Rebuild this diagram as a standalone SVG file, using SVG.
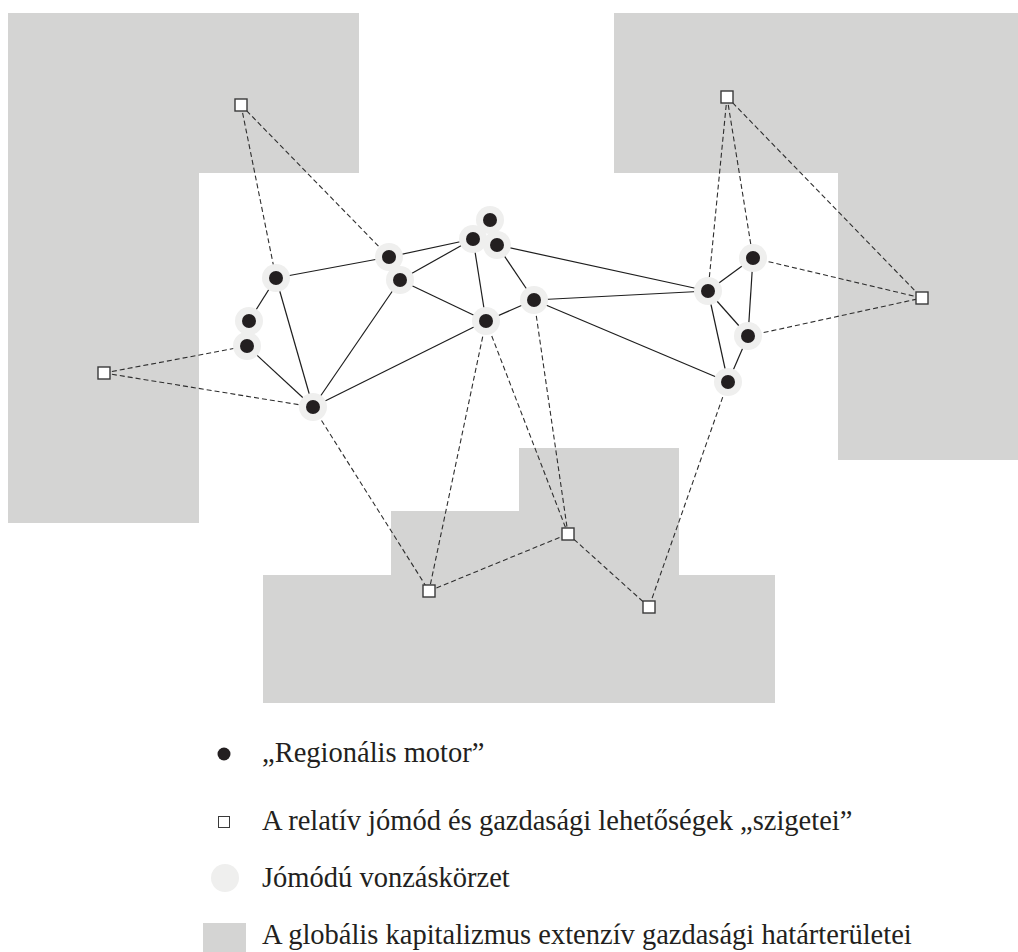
<svg xmlns="http://www.w3.org/2000/svg" width="1018" height="952" viewBox="0 0 1018 952">
  <style>
    .zone { fill: #d4d4d3; }
    .link { stroke: #1e1e1e; stroke-width: 1.2; fill: none; }
    .dash { stroke: #2e2e2e; stroke-width: 1.1; stroke-dasharray: 5 3; fill: none; }
    .halo { fill: #efefee; }
    .motor { fill: #231f20; }
    .island { fill: #ffffff; stroke: #3a3a3a; stroke-width: 1.4; }
    .label { font-family: "Liberation Serif", "Times New Roman", serif; font-size: 28.5px; fill: #231f20; }
  </style>
  <defs>
    <g id="motor-node">
      <circle class="halo" r="14"/>
      <circle class="motor" r="7"/>
    </g>
    <rect id="island-node" class="island" x="-6" y="-6" width="12" height="12"/>
  </defs>

  <rect width="1018" height="952" fill="#ffffff"/>

  <!-- frontier zones of global capitalism -->
  <g id="zones">
    <polygon class="zone" points="8,13 359,13 359,173 199,173 199,523 8,523"/>
    <polygon class="zone" points="614,13 1018,13 1018,460 838,460 838,173 614,173"/>
    <polygon class="zone" points="263,575 391,575 391,511 519,511 519,448 679,448 679,575 775,575 775,703 263,703"/>
  </g>

  <!-- connectors -->
  <g id="connectors">
    <!-- solid links between regional motors -->
    <line class="link" x1="276" y1="278" x2="389" y2="257"/>
    <line class="link" x1="276" y1="278" x2="249" y2="321"/>
    <line class="link" x1="276" y1="278" x2="313" y2="407"/>
    <line class="link" x1="247" y1="346" x2="313" y2="407"/>
    <line class="link" x1="389" y1="257" x2="473" y2="239"/>
    <line class="link" x1="400" y1="280" x2="473" y2="239"/>
    <line class="link" x1="400" y1="280" x2="313" y2="407"/>
    <line class="link" x1="400" y1="280" x2="486" y2="321"/>
    <line class="link" x1="473" y1="239" x2="486" y2="321"/>
    <line class="link" x1="497" y1="245" x2="534" y2="300"/>
    <line class="link" x1="497" y1="245" x2="708" y2="291"/>
    <line class="link" x1="313" y1="407" x2="486" y2="321"/>
    <line class="link" x1="486" y1="321" x2="534" y2="300"/>
    <line class="link" x1="534" y1="300" x2="708" y2="291"/>
    <line class="link" x1="534" y1="300" x2="728" y2="382"/>
    <line class="link" x1="708" y1="291" x2="753" y2="258"/>
    <line class="link" x1="708" y1="291" x2="748" y2="336"/>
    <line class="link" x1="708" y1="291" x2="728" y2="382"/>
    <line class="link" x1="753" y1="258" x2="748" y2="336"/>
    <line class="link" x1="748" y1="336" x2="728" y2="382"/>
    <!-- dashed links to the islands -->
    <line class="dash" x1="241" y1="105" x2="276" y2="278"/>
    <line class="dash" x1="241" y1="105" x2="389" y2="257"/>
    <line class="dash" x1="104" y1="373" x2="247" y2="346"/>
    <line class="dash" x1="104" y1="373" x2="313" y2="407"/>
    <line class="dash" x1="313" y1="407" x2="429" y2="591"/>
    <line class="dash" x1="486" y1="321" x2="429" y2="591"/>
    <line class="dash" x1="486" y1="321" x2="568" y2="534"/>
    <line class="dash" x1="534" y1="300" x2="568" y2="534"/>
    <line class="dash" x1="429" y1="591" x2="568" y2="534"/>
    <line class="dash" x1="568" y1="534" x2="649" y2="607"/>
    <line class="dash" x1="728" y1="382" x2="649" y2="607"/>
    <line class="dash" x1="727" y1="97" x2="708" y2="291"/>
    <line class="dash" x1="727" y1="97" x2="753" y2="258"/>
    <line class="dash" x1="727" y1="97" x2="922" y2="298"/>
    <line class="dash" x1="753" y1="258" x2="922" y2="298"/>
    <line class="dash" x1="748" y1="336" x2="922" y2="298"/>
  </g>

  <!-- regional motors -->
  <g id="motor-a"><use href="#motor-node" x="276" y="278"/></g>
  <g id="motor-b"><use href="#motor-node" x="249" y="321"/></g>
  <g id="motor-c"><use href="#motor-node" x="247" y="346"/></g>
  <g id="motor-d"><use href="#motor-node" x="313" y="407"/></g>
  <g id="motor-e"><use href="#motor-node" x="389" y="257"/></g>
  <g id="motor-f"><use href="#motor-node" x="400" y="280"/></g>
  <g id="motor-g"><use href="#motor-node" x="473" y="239"/></g>
  <g id="motor-h"><use href="#motor-node" x="490" y="220"/></g>
  <g id="motor-i"><use href="#motor-node" x="497" y="245"/></g>
  <g id="motor-j"><use href="#motor-node" x="486" y="321"/></g>
  <g id="motor-k"><use href="#motor-node" x="534" y="300"/></g>
  <g id="motor-l"><use href="#motor-node" x="708" y="291"/></g>
  <g id="motor-m"><use href="#motor-node" x="753" y="258"/></g>
  <g id="motor-n"><use href="#motor-node" x="748" y="336"/></g>
  <g id="motor-o"><use href="#motor-node" x="728" y="382"/></g>

  <!-- islands of relative wealth -->
  <g id="island-top-left"><use href="#island-node" x="241" y="105"/></g>
  <g id="island-left"><use href="#island-node" x="104" y="373"/></g>
  <g id="island-top-right"><use href="#island-node" x="727" y="97"/></g>
  <g id="island-right"><use href="#island-node" x="922" y="298"/></g>
  <g id="island-bottom-1"><use href="#island-node" x="429" y="591"/></g>
  <g id="island-bottom-2"><use href="#island-node" x="568" y="534"/></g>
  <g id="island-bottom-3"><use href="#island-node" x="649" y="607"/></g>

  <!-- legend -->
  <g id="legend">
    <circle class="motor" cx="224" cy="754" r="6.5"/>
    <text class="label" x="262" y="762">„Regionális motor”</text>
    <rect x="218.5" y="816.5" width="11" height="11" fill="#ffffff" stroke="#3a3a3a" stroke-width="1"/>
    <text class="label" x="262" y="830">A relatív jómód és gazdasági lehetőségek „szigetei”</text>
    <circle class="halo" cx="225" cy="878" r="14"/>
    <text class="label" x="262" y="887">Jómódú vonzáskörzet</text>
    <rect class="zone" x="203" y="923" width="43" height="29"/>
    <text class="label" x="262" y="944">A globális kapitalizmus extenzív gazdasági határterületei</text>
  </g>
</svg>
